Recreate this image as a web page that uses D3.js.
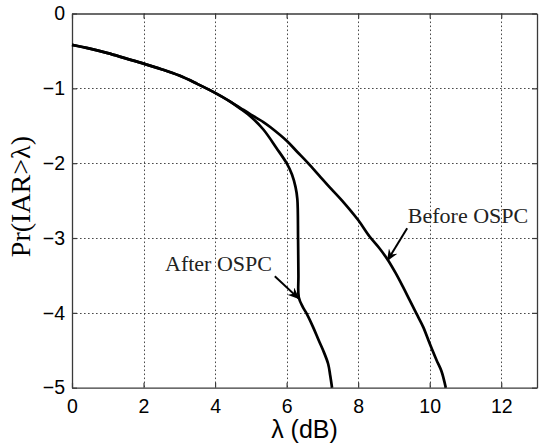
<!DOCTYPE html>
<html>
<head>
<meta charset="utf-8">
<script src="https://cdn.jsdelivr.net/npm/d3@7"></script>
<style>
  html, body { margin: 0; padding: 0; background: #fff; }
  svg { display: block; }
</style>
</head>
<body>
<svg id="chart" width="539" height="446"></svg>
<script>
// ---- data ----
const xTicks = [0, 2, 4, 6, 8, 10, 12];
const yTicks = [0, -1, -2, -3, -4, -5];
const xLabel = "λ (dB)";
const yLabel = "Pr(IAR>λ)";

const beforeX = [0, 0.5, 1, 1.5, 2, 2.5, 3, 3.5, 4, 4.4, 4.7, 5.0, 5.35, 5.55, 6.0, 6.3, 6.6, 6.9, 7.2, 7.55, 8.0, 8.32, 8.6, 8.84, 9.05, 9.25, 9.44, 9.63, 9.82, 10.0, 10.19, 10.33, 10.45];
const beforeY = [-0.42, -0.47, -0.53, -0.60, -0.67, -0.745, -0.83, -0.94, -1.06, -1.17, -1.26, -1.35, -1.45, -1.52, -1.70, -1.85, -2.00, -2.16, -2.32, -2.50, -2.76, -2.98, -3.14, -3.30, -3.47, -3.65, -3.83, -4.01, -4.19, -4.41, -4.63, -4.78, -5.0];

const afterX = [0, 0.5, 1, 1.5, 2, 2.5, 3, 3.5, 4, 4.4, 4.7, 5.0, 5.35, 5.72, 6.0, 6.15, 6.25, 6.30, 6.32, 6.33, 6.34, 6.45, 6.56, 6.74, 6.9, 7.02, 7.16, 7.22, 7.27];
const afterY = [-0.42, -0.47, -0.53, -0.60, -0.67, -0.745, -0.83, -0.94, -1.06, -1.17, -1.27, -1.38, -1.55, -1.80, -2.00, -2.15, -2.32, -2.48, -3.0, -3.5, -3.79, -3.92, -4.01, -4.19, -4.37, -4.50, -4.68, -4.84, -5.0];

const annotations = [
  { text: "After OSPC", tx: 2.6, ty: -3.44, x1: 5.67, y1: -3.51, x2: 6.34, y2: -3.81 },
  { text: "Before OSPC", tx: 9.39, ty: -2.80, x1: 9.37, y1: -2.87, x2: 8.82, y2: -3.30 }
];

// ---- layout ----
const W = 539, H = 446;
const margin = { left: 72, right: 2, top: 13.5, bottom: 58.3 };
const svg = d3.select("#chart");

const x = d3.scaleLinear().domain([0, 13]).range([margin.left, W - margin.right]);
const y = d3.scaleLinear().domain([-5, 0]).range([H - margin.bottom, margin.top]);

const axisColor = "#3a3a3a";
const gridColor = "#4a4a4a";
const snap = v => Math.round(v) + 0.5;

// grid
const grid = svg.append("g").attr("class", "grid");
xTicks.filter(d => d > 0).forEach(d => {
  grid.append("line")
    .attr("x1", snap(x(d))).attr("x2", snap(x(d)))
    .attr("y1", y(0)).attr("y2", y(-5))
    .style("stroke", gridColor).style("stroke-width", "1px")
    .style("stroke-dasharray", "1.6,2.4");
});
yTicks.filter(d => d > -5 && d < 0).forEach(d => {
  grid.append("line")
    .attr("x1", x(0)).attr("x2", x(13))
    .attr("y1", snap(y(d))).attr("y2", snap(y(d)))
    .style("stroke", gridColor).style("stroke-width", "1px")
    .style("stroke-dasharray", "1.6,2.4");
});

// axes (MATLAB-like, inward ticks, box)
const fmt = d => d < 0 ? "\u2212" + Math.abs(d) : String(d);
const tickFont = "'Liberation Sans', Arial, sans-serif";

const xAxisB = d3.axisBottom(x).tickValues(xTicks).tickSizeInner(-5).tickSizeOuter(0).tickPadding(11).tickFormat(fmt);
const xAxisT = d3.axisTop(x).tickValues(xTicks).tickSizeInner(-5).tickSizeOuter(0).tickFormat("");
const yAxisL = d3.axisLeft(y).tickValues(yTicks).tickSizeInner(-5).tickSizeOuter(0).tickPadding(7).tickFormat(fmt);
const yAxisR = d3.axisRight(y).tickValues(yTicks).tickSizeInner(-5).tickSizeOuter(0).tickFormat("");

function styleAxis(g) {
  g.select(".domain").attr("stroke", axisColor).attr("stroke-width", 1.3);
  g.selectAll(".tick line").attr("stroke", axisColor).attr("stroke-width", 1.2);
  g.selectAll(".tick text").attr("fill", "#000").style("font-family", tickFont).style("font-size", "19.5px");
}

svg.append("g").attr("transform", `translate(0,${y(-5)})`).call(xAxisB).call(styleAxis);
svg.append("g").attr("transform", `translate(0,${y(0)})`).call(xAxisT).call(styleAxis);
svg.append("g").attr("transform", `translate(${x(0)},0)`).call(yAxisL).call(styleAxis);
svg.append("g").attr("transform", `translate(${x(13)},0)`).call(yAxisR).call(styleAxis);

// curves
const line = d3.line().x(d => x(d[0])).y(d => y(d[1])).curve(d3.curveCatmullRom.alpha(0.5));
const beforeData = beforeX.map((v, i) => [v, beforeY[i]]);
const afterData = afterX.map((v, i) => [v, afterY[i]]);

svg.append("path").datum(beforeData).attr("d", line)
  .attr("fill", "none").attr("stroke", "#000").attr("stroke-width", 2.7).attr("stroke-linejoin", "round");
svg.append("path").datum(afterData).attr("d", line)
  .attr("fill", "none").attr("stroke", "#000").attr("stroke-width", 2.7).attr("stroke-linejoin", "round");

// arrow marker
svg.append("defs").append("marker")
  .attr("id", "arrow").attr("viewBox", "0 0 12 10")
  .attr("refX", 11).attr("refY", 5)
  .attr("markerWidth", 12).attr("markerHeight", 10)
  .attr("markerUnits", "userSpaceOnUse")
  .attr("orient", "auto")
  .append("path").attr("d", "M0,0 L12,5 L0,10 L4,5 Z").attr("fill", "#000");

const ann = svg.append("g");
annotations.forEach(a => {
  ann.append("line")
    .attr("x1", x(a.x1)).attr("y1", y(a.y1))
    .attr("x2", x(a.x2)).attr("y2", y(a.y2))
    .attr("stroke", "#000").attr("stroke-width", 2)
    .attr("marker-end", "url(#arrow)");
  ann.append("text")
    .attr("x", x(a.tx)).attr("y", y(a.ty))
    .style("font-family", "'Liberation Serif', 'Times New Roman', serif")
    .style("font-size", "22px")
    .attr("fill", "#222")
    .text(a.text);
});

// axis titles
svg.append("text")
  .attr("x", (x(0) + x(13)) / 2).attr("y", 438)
  .attr("text-anchor", "middle")
  .style("font-family", tickFont).style("font-size", "25px")
  .text(xLabel);

svg.append("text")
  .attr("transform", `translate(30,${(y(0) + y(-5)) / 2 - 4}) rotate(-90)`)
  .attr("text-anchor", "middle")
  .style("font-family", "'Liberation Serif', 'Times New Roman', serif").style("font-size", "28px")
  .text(yLabel);
</script>
</body>
</html>
